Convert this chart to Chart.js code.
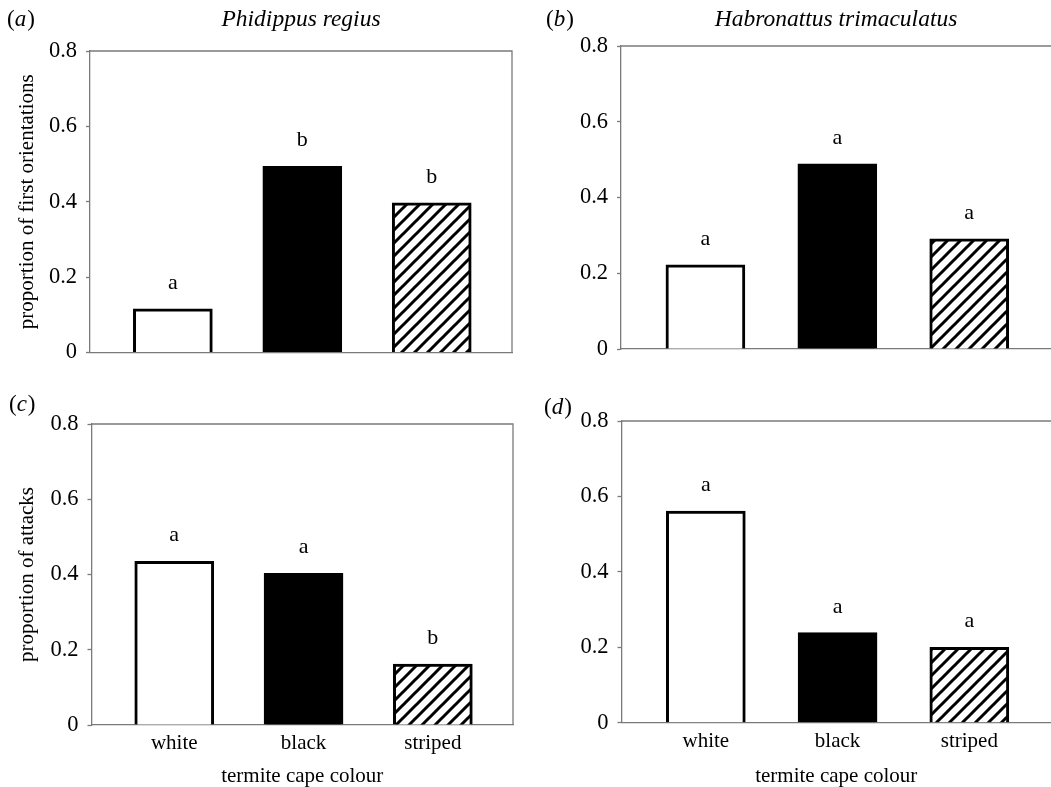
<!DOCTYPE html>
<html>
<head>
<meta charset="utf-8">
<script src="https://cdn.jsdelivr.net/npm/chart.js@4/dist/chart.umd.min.js"></script>
<style>
  html, body { margin: 0; padding: 0; background: #fff; }
  #page { position: relative; width: 1051px; height: 787px; overflow: hidden; }
  canvas { position: absolute; }
</style>
</head>
<body>
<div id="page">
  <canvas id="panA"></canvas>
  <canvas id="panB"></canvas>
  <canvas id="panC"></canvas>
  <canvas id="panD"></canvas>
</div>
<script>
// ── DONNÉES ───────────────────────────────────────
const categories = ['white', 'black', 'striped'];
const yTicks     = [0, 0.2, 0.4, 0.6, 0.8];

const orientPhidippus   = [0.116, 0.494, 0.397];
const orientHabronattus = [0.222, 0.489, 0.291];
const attackPhidippus   = [0.435, 0.403, 0.162];
const attackHabronattus = [0.561, 0.239, 0.200];

// lettres de significativité au-dessus des barres
const lettresOrientPhid = ['a', 'b', 'b'];
const lettresOrientHab  = ['a', 'a', 'a'];
const lettresAttackPhid = ['a', 'a', 'b'];
const lettresAttackHab  = ['a', 'a', 'a'];

// ── STYLE ─────────────────────────────────────────
const POLICE = '"Liberation Serif", "Times New Roman", serif';
const GRIS   = '#7a7a7a';

// motif hachuré "/" pour la barre striped
function motifHachure() {
  const s = 13;
  const c = document.createElement('canvas');
  c.width = s; c.height = s;
  const g = c.getContext('2d');
  g.fillStyle = '#fff';
  g.fillRect(0, 0, s, s);
  g.strokeStyle = '#000';
  g.lineWidth = 3;
  g.beginPath();
  g.moveTo(0, s); g.lineTo(s, 0);
  g.moveTo(-2, 2); g.lineTo(2, -2);
  g.moveTo(s - 2, s + 2); g.lineTo(s + 2, s - 2);
  g.stroke();
  return g.createPattern(c, 'repeat');
}

// ── PANNEAUX (mise en page) ───────────────────────
const PANNEAUX = [
  { id: 'panA', x: 0,   y: 0,   w: 525, h: 380, gauche: 90,   haut: 51, droite: 13, bas: 27.5,
    valeurs: orientPhidippus, lettres: lettresOrientPhid, marque: 'a', mx: 7,  my: 20,
    titre: 'Phidippus regius', yTitre: 'proportion of first orientations', xLabels: false, bordDroit: true },
  { id: 'panB', x: 525, y: 0,   w: 526, h: 380, gauche: 96,   haut: 46, droite: 0,  bas: 31,
    valeurs: orientHabronattus, lettres: lettresOrientHab, marque: 'b', mx: 21, my: 20,
    titre: 'Habronattus trimaculatus', yTitre: '', xLabels: false, bordDroit: false },
  { id: 'panC', x: 0,   y: 380, w: 525, h: 407, gauche: 91.5, haut: 44, droite: 12, bas: 62,
    valeurs: attackPhidippus, lettres: lettresAttackPhid, marque: 'c', mx: 9,  my: 25,
    titre: '', yTitre: 'proportion of attacks', xLabels: true, bordDroit: true },
  { id: 'panD', x: 525, y: 380, w: 526, h: 407, gauche: 96.5, haut: 41, droite: 0,  bas: 64.3,
    valeurs: attackHabronattus, lettres: lettresAttackHab, marque: 'd', mx: 19, my: 28,
    titre: '', yTitre: '', xLabels: true, bordDroit: false }
];

// ── PLUGIN : cadre, lettres, titres ───────────────
const pluginAnnotations = {
  id: 'annotations',
  afterDraw(chart, args, p) {
    const ctx = chart.ctx;
    const ca = chart.chartArea;
    ctx.save();

    // cadre haut (+ droit pour les panneaux de gauche)
    ctx.strokeStyle = GRIS;
    ctx.lineWidth = 1.3;
    ctx.beginPath();
    ctx.moveTo(ca.left, ca.top);
    ctx.lineTo(ca.right, ca.top);
    if (p.bordDroit) ctx.lineTo(ca.right, ca.bottom);
    ctx.stroke();

    // lettres au-dessus des barres
    ctx.fillStyle = '#000';
    ctx.font = '22px ' + POLICE;
    ctx.textAlign = 'center';
    ctx.textBaseline = 'alphabetic';
    chart.getDatasetMeta(0).data.forEach(function(bar, i) {
      ctx.fillText(p.lettres[i], bar.x, bar.y - 20);
    });

    // marque du panneau : (a) avec lettre en italique
    ctx.textAlign = 'left';
    ctx.textBaseline = 'middle';
    let x = p.mx;
    ctx.font = '23px ' + POLICE;
    ctx.fillText('(', x, p.my);
    x += ctx.measureText('(').width;
    ctx.font = 'italic 23px ' + POLICE;
    ctx.fillText(p.marque, x, p.my);
    x += ctx.measureText(p.marque).width + 1;
    ctx.font = '23px ' + POLICE;
    ctx.fillText(')', x, p.my);

    // titre de l'espèce
    if (p.titre) {
      ctx.font = 'italic 23.5px ' + POLICE;
      ctx.textAlign = 'center';
      ctx.fillText(p.titre, (ca.left + ca.right) / 2, 20);
    }
    ctx.restore();
  }
};

// ── CRÉATION DES GRAPHIQUES ───────────────────────
const hachure = motifHachure();

PANNEAUX.forEach(function(p) {
  const cv = document.getElementById(p.id);
  cv.style.left = p.x + 'px';
  cv.style.top  = p.y + 'px';
  cv.style.width  = p.w + 'px';
  cv.style.height = p.h + 'px';
  cv.width = p.w; cv.height = p.h;

  new Chart(cv, {
    type: 'bar',
    data: {
      datasets: [{
        data: p.valeurs.map(function(v, i) { return { x: i + 1, y: v }; }),
        backgroundColor: ['#fff', '#000', hachure],
        borderColor: '#000',
        borderWidth: 3,
        borderSkipped: 'start',
        barThickness: 79
      }]
    },
    options: {
      responsive: false,
      animation: false,
      layout: { padding: { top: p.haut, right: p.droite, left: 0, bottom: 0 } },
      plugins: {
        legend: { display: false },
        tooltip: { enabled: false },
        annotations: p
      },
      scales: {
        x: {
          type: 'linear',
          offset: false,
          min: 0.36,
          max: 3.62,
          afterBuildTicks: function(s) { s.ticks = categories.map(function(c, i) { return { value: i + 1 }; }); },
          afterFit: function(s) { s.height = p.bas; },
          grid: { display: false, drawTicks: false },
          border: { display: true, color: GRIS, width: 1.3 },
          ticks: {
            display: p.xLabels,
            autoSkip: false,
            maxRotation: 0,
            padding: 6,
            color: '#000',
            font: { family: POLICE, size: 21 },
            callback: function(v) { return categories[v - 1]; }
          },
          title: {
            display: p.xLabels,
            text: 'termite cape colour',
            color: '#000',
            font: { family: POLICE, size: 21, lineHeight: 1 },
            padding: 0
          }
        },
        y: {
          min: 0,
          max: 0.8,
          afterBuildTicks: function(s) { s.ticks = yTicks.map(function(v) { return { value: v }; }); },
          afterFit: function(s) { s.width = p.gauche; },
          grid: { display: true, drawOnChartArea: false, drawTicks: true, tickLength: 4, tickColor: GRIS, tickWidth: 1.3 },
          border: { display: true, color: GRIS, width: 1.3 },
          ticks: {
            padding: 9,
            color: '#000',
            font: { family: POLICE, size: 22.5 },
            callback: function(v) { return v === 0 ? '0' : v.toFixed(1); }
          },
          title: {
            display: !!p.yTitre,
            text: p.yTitre,
            color: '#000',
            font: { family: POLICE, size: 21, lineHeight: 1 },
            padding: { top: 17, bottom: 0 }
          }
        }
      }
    },
    plugins: [pluginAnnotations]
  });
});
</script>
</body>
</html>
